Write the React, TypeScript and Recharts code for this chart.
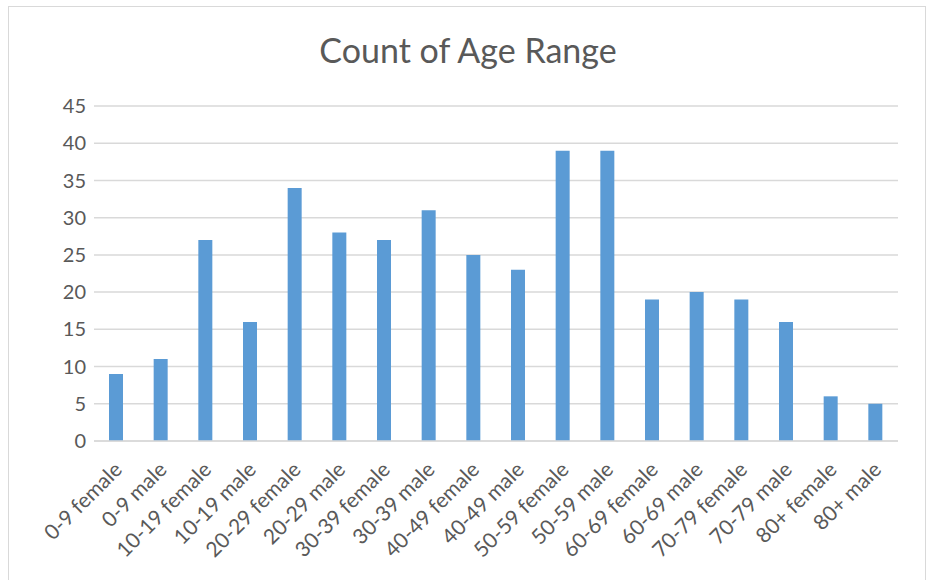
import React from 'react';
import { BarChart, Bar, XAxis, YAxis, CartesianGrid } from 'recharts';

const categories = [
  '0-9 female', '0-9 male', '10-19 female', '10-19 male', '20-29 female', '20-29 male',
  '30-39 female', '30-39 male', '40-49 female', '40-49 male', '50-59 female', '50-59 male',
  '60-69 female', '60-69 male', '70-79 female', '70-79 male', '80+ female', '80+ male',
];
const counts = [9, 11, 27, 16, 34, 28, 27, 31, 25, 23, 39, 39, 19, 20, 19, 16, 6, 5];
const yTicks = [0, 5, 10, 15, 20, 25, 30, 35, 40, 45];

const data = categories.map((name, i) => ({ name, count: counts[i] }));

const FONT = 'Lato, "Open Sans", sans-serif';
const TEXT = '#595959';

const AngledTick = (props: any) => {
  const { x, y, payload } = props;
  return (
    <g transform={`translate(${x + 7},${y + 22})`}>
      <text textAnchor="end" transform="rotate(-45)" fill={TEXT} fontSize={21} fontFamily={FONT}>
        {payload.value}
      </text>
    </g>
  );
};

export default function App() {
  return (
    <div
      style={{
        position: 'absolute',
        left: 8,
        top: 6,
        width: 918,
        height: 580,
        border: '1px solid #d9d9d9',
        background: '#fff',
        boxSizing: 'border-box',
      }}
    >
      <div
        style={{
          position: 'absolute',
          top: 22,
          left: 0,
          width: 918,
          textAlign: 'center',
          fontFamily: FONT,
          fontSize: 34,
          color: TEXT,
        }}
      >
        Count of Age Range
      </div>
      <BarChart
        width={918}
        height={574}
        data={data}
        margin={{ top: 99, right: 29, left: 0, bottom: 0 }}
        barCategoryGap="0%"
      >
        <CartesianGrid vertical={false} stroke="#d9d9d9" strokeWidth={1.5} />
        <XAxis
          dataKey="name"
          interval={0}
          height={140}
          axisLine={{ stroke: '#d9d9d9', strokeWidth: 1.5 }}
          tickLine={false}
          tick={<AngledTick />}
        />
        <YAxis
          width={85}
          domain={[0, 45]}
          ticks={yTicks}
          axisLine={false}
          tickLine={false}
          tick={{ fill: TEXT, fontSize: 20, fontFamily: FONT }}
        />
        <Bar dataKey="count" fill="#5b9bd5" barSize={14} isAnimationActive={false} />
      </BarChart>
    </div>
  );
}
